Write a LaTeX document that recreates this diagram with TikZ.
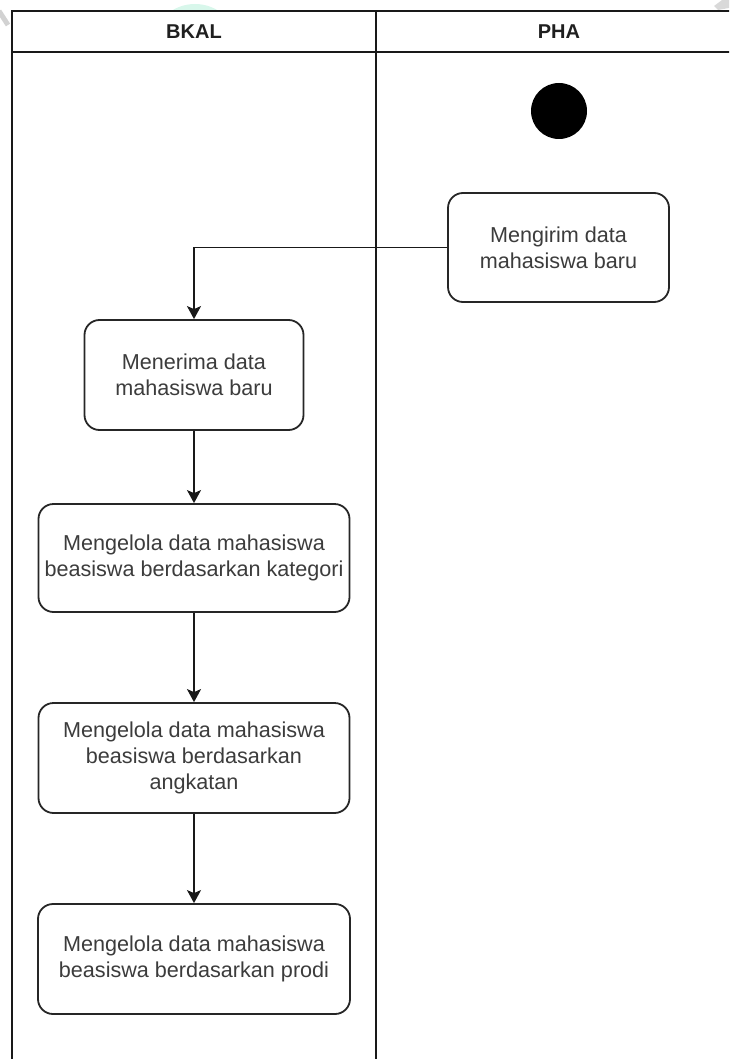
\documentclass[tikz,border=0pt]{standalone}
\usepackage{fontspec}
\setmainfont{Liberation Sans}
\usetikzlibrary{arrows.meta}
\definecolor{txtgray}{HTML}{3C3C3C}
\definecolor{mint}{HTML}{D8F7EB}
\tikzset{
  act/.style={draw=black!85, line width=1.8pt, rounded corners=15pt, fill=white,
    align=center, text=txtgray, inner sep=0pt,
    font=\fontsize{21.6pt}{26pt}\selectfont},
  lanetitle/.style={font=\bfseries\fontsize{20pt}{24pt}\selectfont, text=black!88},
  flow/.style={line width=1.8pt, draw=black!90, -{Stealth[length=13pt,width=14pt,inset=3pt]}},
  lane/.style={line width=1.9pt, draw=black!90}
}
\begin{document}
\begin{tikzpicture}[x=1pt,y=-1pt]
\useasboundingbox (0,0) rectangle (729,1059);
\clip (0,0) rectangle (729,1059);
% faint watermark traces
\fill[mint] (195,44) ellipse [x radius=42, y radius=40];
\draw[gray!35, line width=5pt] (-1,11) -- (8,25);
\fill[gray!30] (714,6) -- (722,0) -- (729,0) -- (729,8) -- (718,10) -- cycle;
% swimlanes
\fill[white] (12,11) rectangle (745,1065);
\draw[lane] (12,1065) -- (12,11) -- (745,11);
\draw[lane] (12,52) -- (745,52);
\draw[lane] (376,11) -- (376,1065);
\node[lanetitle] (bkal) at (194,31.5) {BKAL};
\node[lanetitle] (pha) at (559,31.5) {PHA};
% nodes
\node[circle, fill=black, minimum size=56pt, inner sep=0pt] (start) at (559,111) {};
\node[act, minimum width=221pt, minimum height=109pt] (kirim) at (558.5,247.5) {Mengirim data\\mahasiswa baru};
\node[act, minimum width=219pt, minimum height=110pt] (terima) at (194,375) {Menerima data\\mahasiswa baru};
\node[act, minimum width=311pt, minimum height=108pt] (kategori) at (194,558) {Mengelola data mahasiswa\\beasiswa berdasarkan kategori};
\node[act, minimum width=311pt, minimum height=110pt] (angkatan) at (194,758) {Mengelola data mahasiswa\\beasiswa berdasarkan\\angkatan};
\node[act, minimum width=312pt, minimum height=110pt] (prodi) at (194,959) {Mengelola data mahasiswa\\beasiswa berdasarkan prodi};
% connectors
\draw[flow] (kirim.west) -| (terima.north);
\draw[flow] (terima.south) -- (kategori.north);
\draw[flow] (kategori.south) -- (angkatan.north);
\draw[flow] (angkatan.south) -- (prodi.north);
\end{tikzpicture}
\end{document}
